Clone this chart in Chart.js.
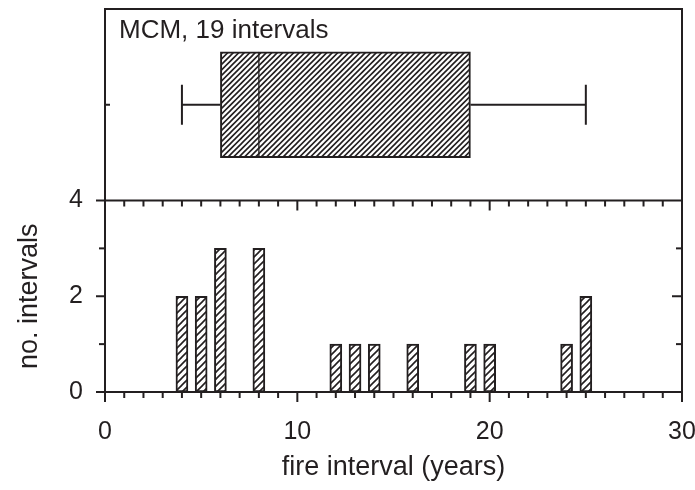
<!DOCTYPE html>
<html>
<head>
<meta charset="utf-8">
<title>MCM fire intervals</title>
<script src="https://cdn.jsdelivr.net/npm/chart.js@4.4.1/dist/chart.umd.min.js"></script>
<style>
  html, body { margin: 0; padding: 0; background: #fff; }
  canvas { display: block; }
</style>
</head>
<body>
<canvas id="myChart" width="695" height="490"></canvas>
<script>
// histogram: fire interval (years) -> number of intervals
const intervalYears = [4, 5, 6, 8, 12, 13, 14, 16, 19, 20, 24, 25];
const intervalCounts = [2, 2, 3, 3, 1, 1, 1, 1, 1, 1, 1, 2];

// box plot summary of the same 19 intervals
const whiskerLow = 4;
const quartileLow = 6;
const medianYears = 8;
const quartileHigh = 19;
const whiskerHigh = 25;
const boxRow = 0.5;

const xTicks = [0, 10, 20, 30];
const countTicks = [0, 2, 4];
const panelLabel = "MCM, 19 intervals";

const ink = "#231f20";
const fontFamily = "'Liberation Sans', Arial, Helvetica, sans-serif";

// diagonal "/" hatching
function hatch(step, tile, width) {
	const c = document.createElement("canvas");
	c.width = tile;
	c.height = tile;
	const g = c.getContext("2d");
	g.fillStyle = "#fff";
	g.fillRect(0, 0, tile, tile);
	g.strokeStyle = ink;
	g.lineWidth = width;
	g.beginPath();
	for (let k = 0; k <= 2 * tile + step; k += step) {
		g.moveTo(k + 1, -1);
		g.lineTo(-1, k + 1);
	}
	g.stroke();
	return g.createPattern(c, "repeat");
}

// keep the plot area where the layout padding puts it
function noEdgePadding(s) {
	s.paddingTop = 0;
	s.paddingBottom = 0;
	s.paddingLeft = 0;
	s.paddingRight = 0;
}

const framePlugin = {
	id: "frame",
	afterDatasetsDraw(chart) {
		const { ctx, chartArea: a, scales } = chart;
		const x = scales.x;
		const yc = scales.yCount;
		const yb = scales.yBox;
		const line = (x1, y1, x2, y2) => {
			ctx.beginPath();
			ctx.moveTo(x1, y1);
			ctx.lineTo(x2, y2);
			ctx.stroke();
		};
		ctx.save();
		ctx.strokeStyle = ink;
		ctx.lineWidth = 2;
		ctx.strokeRect(a.left, a.top, a.right - a.left, a.bottom - a.top);
		const ySplit = yc.getPixelForValue(4);
		line(a.left, ySplit, a.right, ySplit);

		for (let v = 0; v <= 30; v++) {
			const px = x.getPixelForValue(v);
			const major = v % 10 === 0;
			line(px, a.bottom, px, a.bottom + (major ? 10 : 6));
			line(px, ySplit, px, ySplit + (major ? 10 : 6));
		}
		for (let v = 0; v <= 4; v++) {
			const py = yc.getPixelForValue(v);
			const major = v % 2 === 0;
			line(a.left - (major ? 9 : 6), py, a.left, py);
			if (v > 0 && v < 4) line(a.right - (major ? 10 : 6), py, a.right, py);
		}
		const pb = yb.getPixelForValue(boxRow);
		line(a.left, pb, a.left + 5, pb);

		ctx.fillStyle = ink;
		ctx.font = "26px " + fontFamily;
		ctx.textBaseline = "alphabetic";
		ctx.textAlign = "left";
		ctx.fillText(panelLabel, a.left + 14, a.top + 29);
		ctx.restore();
	},
};

window.addEventListener("load", setup);

function setup() {
	Chart.defaults.font.family = fontFamily;
	Chart.defaults.color = ink;

	const barHatch = hatch(7, 7, 1.6);
	const boxHatch = hatch(5.5, 11, 1.6);

	const ctx = document.getElementById("myChart").getContext("2d");
	new Chart(ctx, {
		type: "bar",
		data: {
			datasets: [
				{
					type: "bar",
					data: intervalYears.map((yr, i) => ({ x: yr, y: intervalCounts[i] })),
					xAxisID: "x",
					yAxisID: "yCount",
					backgroundColor: barHatch,
					borderColor: ink,
					borderWidth: 2,
					borderSkipped: false,
					barThickness: 12,
				},
				{
					type: "bar",
					indexAxis: "y",
					data: [{ x: [quartileLow, medianYears], y: boxRow }],
					xAxisID: "x",
					yAxisID: "yBox",
					grouped: false,
					backgroundColor: boxHatch,
					borderColor: ink,
					borderWidth: { top: 2, bottom: 2, left: 2, right: 1 },
					borderSkipped: false,
					barThickness: 106,
				},
				{
					type: "bar",
					indexAxis: "y",
					data: [{ x: [medianYears, quartileHigh], y: boxRow }],
					xAxisID: "x",
					yAxisID: "yBox",
					grouped: false,
					backgroundColor: boxHatch,
					borderColor: ink,
					borderWidth: { top: 2, bottom: 2, left: 1, right: 2 },
					borderSkipped: false,
					barThickness: 106,
				},
				{
					type: "line",
					data: [{ x: whiskerLow, y: boxRow }, { x: quartileLow, y: boxRow }],
					xAxisID: "x",
					yAxisID: "yBox",
					borderColor: ink,
					borderWidth: 2,
					pointStyle: "line",
					rotation: 90,
					pointRadius: [20, 0],
					pointBorderWidth: 2,
					pointBorderColor: ink,
				},
				{
					type: "line",
					data: [{ x: quartileHigh, y: boxRow }, { x: whiskerHigh, y: boxRow }],
					xAxisID: "x",
					yAxisID: "yBox",
					borderColor: ink,
					borderWidth: 2,
					pointStyle: "line",
					rotation: 90,
					pointRadius: [0, 20],
					pointBorderWidth: 2,
					pointBorderColor: ink,
				},
			],
		},
		options: {
			responsive: false,
			animation: false,
			events: [],
			layout: { autoPadding: false, padding: { left: 0, top: 9, right: 13, bottom: 0 } },
			plugins: { legend: { display: false }, tooltip: { enabled: false } },
			scales: {
				x: {
					type: "linear",
					position: "bottom",
					offset: false,
					min: 0,
					max: 30,
					afterBuildTicks: (s) => { s.ticks = xTicks.map((v) => ({ value: v })); },
					afterFit: (s) => { s.height = 98; noEdgePadding(s); },
					ticks: { font: { size: 25 }, padding: 25, color: ink, maxRotation: 0 },
					grid: { display: false, drawTicks: false },
					border: { display: false },
					title: {
						display: true,
						text: "fire interval (years)",
						font: { size: 27 },
						color: ink,
						padding: { top: 0, bottom: 6 },
					},
				},
				yCount: {
					type: "linear",
					position: "left",
					stack: "panels",
					stackWeight: 1,
					offset: false,
					min: 0,
					max: 4,
					afterBuildTicks: (s) => { s.ticks = countTicks.map((v) => ({ value: v })); },
					afterFit: (s) => { s.width = 105; noEdgePadding(s); },
					ticks: { font: { size: 25 }, padding: 22, color: ink },
					grid: { display: false, drawTicks: false },
					border: { display: false },
					title: {
						display: true,
						text: "no. intervals",
						font: { size: 27 },
						color: ink,
						padding: { top: 13, bottom: 0 },
					},
				},
				yBox: {
					type: "linear",
					position: "left",
					stack: "panels",
					stackWeight: 1,
					offset: false,
					min: 0,
					max: 1,
					afterFit: (s) => { s.width = 105; noEdgePadding(s); },
					ticks: { display: false },
					grid: { display: false, drawTicks: false },
					border: { display: false },
				},
			},
		},
		plugins: [framePlugin],
	});
}
</script>
</body>
</html>
